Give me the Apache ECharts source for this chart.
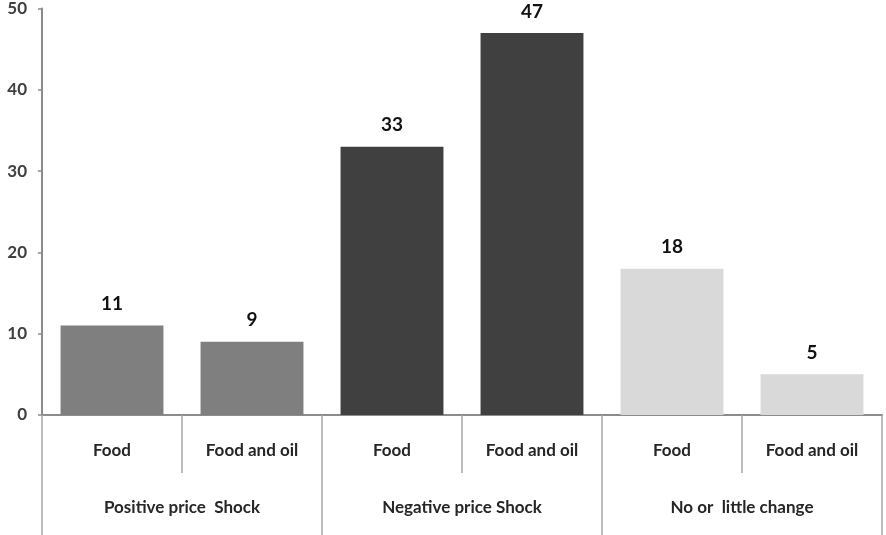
<!DOCTYPE html>
<html>
<head>
<meta charset="utf-8">
<script src="https://cdn.jsdelivr.net/npm/echarts@6/dist/echarts.min.js"></script>
<style>
  html, body { margin: 0; padding: 0; background: #fff; }
  #chart { width: 886px; height: 535px; }
</style>
</head>
<body>
<div id="chart"></div>
<script>
// Share of responses by commodity type, grouped by price shock direction
const groups = ['Positive price  Shock', 'Negative price Shock', 'No or  little change'];
const categories = ['Food', 'Food and oil', 'Food', 'Food and oil', 'Food', 'Food and oil'];
const values = [11, 9, 33, 47, 18, 5];
const groupColors = ['#7f7f7f', '#404040', '#d9d9d9'];
const yTicks = { min: 0, max: 50, interval: 10 };

const FONT = 'Lato, "Open Sans", sans-serif';

const chart = echarts.init(document.getElementById('chart'), null, { renderer: 'canvas' });

const barData = values.map((v, i) => ({
  value: v,
  itemStyle: { color: groupColors[Math.floor(i / 2)] }
}));

chart.setOption({
  animation: false,
  backgroundColor: '#ffffff',
  grid: { left: 42, right: 4, top: 8, bottom: 120, containLabel: false },
  xAxis: [
    {
      type: 'category',
      data: categories,
      position: 'bottom',
      axisLine: { show: true, lineStyle: { color: '#8c8c8c', width: 2 } },
      axisTick: { show: true, length: 58, interval: 0, lineStyle: { color: '#a6a6a6', width: 1.5 } },
      axisLabel: { interval: 0, margin: 27, color: '#262626', fontFamily: FONT, fontSize: 17, fontWeight: 'bold' },
      splitLine: { show: false }
    },
    {
      type: 'category',
      data: groups,
      position: 'bottom',
      axisLine: { show: false },
      axisTick: { show: true, length: 120, interval: 0, lineStyle: { color: '#a6a6a6', width: 1.5 } },
      axisLabel: { interval: 0, margin: 84, color: '#262626', fontFamily: FONT, fontSize: 17, fontWeight: 'bold' },
      splitLine: { show: false }
    }
  ],
  yAxis: {
    type: 'value',
    min: yTicks.min,
    max: yTicks.max,
    interval: yTicks.interval,
    axisLine: { show: true, lineStyle: { color: '#8c8c8c', width: 2 } },
    axisTick: { show: true, length: 4, lineStyle: { color: '#8c8c8c', width: 1.5 } },
    axisLabel: { margin: 15, color: '#404040', fontFamily: FONT, fontSize: 17, fontWeight: 'bold' },
    splitLine: { show: false }
  },
  series: [
    {
      type: 'bar',
      xAxisIndex: 0,
      data: barData,
      barWidth: '73.5%',
      label: {
        show: true,
        position: 'top',
        distance: 12,
        color: '#111111',
        fontFamily: FONT,
        fontSize: 19,
        fontWeight: 'bold'
      }
    }
  ]
});
</script>
</body>
</html>
